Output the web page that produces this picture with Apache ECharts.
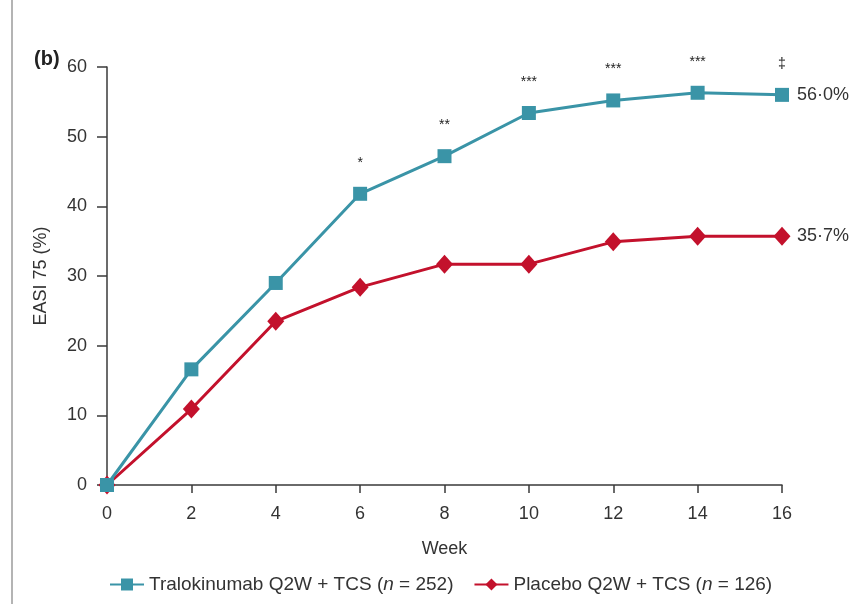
<!DOCTYPE html>
<html>
<head>
<meta charset="utf-8">
<script src="https://cdn.jsdelivr.net/npm/echarts@6/dist/echarts.min.js"></script>
<style>
  html, body { margin: 0; padding: 0; background: #fff; }
  #chart { width: 857px; height: 604px; }
</style>
</head>
<body>
<div id="chart"></div>
<script>
// values
const weeks = [0, 2, 4, 6, 8, 10, 12, 14, 16];
const tralokinumab = [0, 16.6, 29.0, 41.8, 47.2, 53.4, 55.2, 56.3, 56.0];
const placebo = [0, 10.9, 23.5, 28.4, 31.7, 31.7, 34.9, 35.7, 35.7];
const significance = ['', '', '', '*', '**', '***', '***', '***', '‡'];
const finalLabels = ['56·0%', '35·7%'];
const seriesNames = ['Tralokinumab Q2W + TCS ({i|n} = 252)', 'Placebo Q2W + TCS ({i|n} = 126)'];

const font = 'Liberation Sans, Arial, sans-serif';
const teal = '#3a94a7';
const red = '#c3112c';
const axisColor = '#3a3a3a';
const textColor = '#333';

const chart = echarts.init(document.getElementById('chart'));

const toPairs = vals => weeks.map((w, i) => [w, vals[i]]);

chart.setOption({
    animation: false,
    textStyle: { fontFamily: font },
    title: {
        text: '(b)',
        left: 29,
        top: 44,
        textStyle: { fontSize: 20, fontWeight: 'bold', color: '#222', fontFamily: font }
    },
    graphic: [{
        type: 'rect',
        shape: { x: 11, y: 0, width: 2, height: 604 },
        style: { fill: '#b4b4b4' }
    }],
    grid: { left: 107, right: 75, top: 67, bottom: 119 },
    legend: {
        top: 570,
        left: 104,
        itemWidth: 34,
        itemHeight: 15,
        itemGap: 20,
        textStyle: {
            fontSize: 19,
            color: textColor,
            fontFamily: font,
            rich: { i: { fontStyle: 'italic', fontSize: 19, color: textColor, fontFamily: font } }
        },
        data: seriesNames
    },
    xAxis: {
        type: 'value',
        min: 0,
        max: 16,
        interval: 2,
        name: 'Week',
        nameLocation: 'middle',
        nameGap: 55,
        nameTextStyle: { fontSize: 18, color: textColor },
        axisLine: { lineStyle: { color: axisColor, width: 1.5 } },
        axisTick: { length: 8, lineStyle: { color: axisColor, width: 1.5 } },
        axisLabel: { fontSize: 18, color: textColor, margin: 20 },
        splitLine: { show: false }
    },
    yAxis: {
        type: 'value',
        min: 0,
        max: 60,
        interval: 10,
        name: 'EASI 75 (%)',
        nameLocation: 'middle',
        nameGap: 57,
        nameTextStyle: { fontSize: 18, color: textColor },
        axisLine: { show: true, lineStyle: { color: axisColor, width: 1.5 } },
        axisTick: { show: true, length: 10, lineStyle: { color: axisColor, width: 1.5 } },
        axisLabel: { fontSize: 18, color: textColor, margin: 20 },
        splitLine: { show: false }
    },
    series: [
        {
            name: seriesNames[0],
            type: 'line',
            data: toPairs(tralokinumab),
            color: teal,
            symbol: 'rect',
            symbolSize: 14,
            z: 3,
            lineStyle: { width: 3, color: teal },
            itemStyle: { color: teal },
            label: {
                show: true,
                position: 'top',
                distance: 17,
                fontSize: 14,
                color: '#222',
                formatter: p => significance[p.dataIndex]
            },
            endLabel: {
                show: true,
                formatter: finalLabels[0],
                fontSize: 18,
                color: textColor,
                distance: 15
            }
        },
        {
            name: seriesNames[1],
            type: 'line',
            data: toPairs(placebo),
            color: red,
            symbol: 'diamond',
            symbolSize: [17, 19],
            z: 2,
            lineStyle: { width: 3, color: red },
            itemStyle: { color: red },
            endLabel: {
                show: true,
                formatter: finalLabels[1],
                fontSize: 18,
                color: textColor,
                distance: 15
            }
        }
    ]
});
</script>
</body>
</html>
